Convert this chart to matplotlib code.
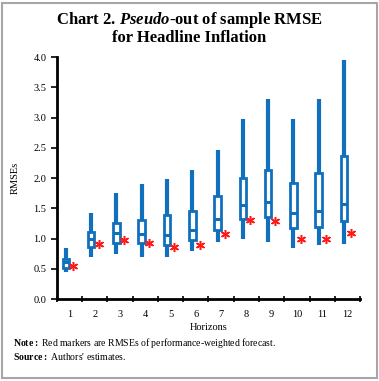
import numpy as np
import matplotlib
matplotlib.use("Agg")
import matplotlib.pyplot as plt
from matplotlib.patches import Rectangle

plt.rcParams['font.family'] = ['Liberation Serif', 'DejaVu Serif']
plt.rcParams['mathtext.fontset'] = 'custom'
plt.rcParams['mathtext.rm'] = 'Liberation Serif'
plt.rcParams['mathtext.it'] = 'Liberation Serif:italic:bold'
plt.rcParams['mathtext.bf'] = 'Liberation Serif:bold'

# box plot stats (RMSEs by forecast horizon)
horizons = list(range(1, 13))
whis_lo = [0.45, 0.69, 0.74, 0.69, 0.70, 0.80, 0.95, 1.00, 0.95, 0.84, 0.89, 0.91]
q1 = [0.52, 0.86, 0.93, 0.92, 0.90, 0.98, 1.14, 1.32, 1.35, 1.17, 1.20, 1.29]
med = [0.62, 0.99, 1.09, 1.07, 1.06, 1.14, 1.33, 1.55, 1.61, 1.42, 1.45, 1.57]
q3 = [0.66, 1.11, 1.26, 1.31, 1.39, 1.45, 1.71, 2.00, 2.14, 1.92, 2.09, 2.36]
whis_hi = [0.85, 1.42, 1.75, 1.90, 1.98, 2.13, 2.46, 2.97, 3.31, 2.97, 3.30, 3.95]
# performance-weighted forecast RMSE (red markers)
weighted = [0.54, 0.91, 0.97, 0.93, 0.86, 0.89, 1.07, 1.31, 1.29, 1.00, 0.99, 1.09]

yticks = [0.0, 0.5, 1.0, 1.5, 2.0, 2.5, 3.0, 3.5, 4.0]

blue = '#1170bd'
red = '#ff1a1a'

fig = plt.figure(figsize=(3.79, 3.81), dpi=100)
ax = fig.add_axes([0.150, 0.215, 0.800, 0.635])

stats = []
for i in range(len(horizons)):
    stats.append(dict(med=med[i], q1=q1[i], q3=q3[i],
                      whislo=whis_lo[i], whishi=whis_hi[i], fliers=[]))

pos = np.array(horizons) - 0.14
ax.bxp(stats, positions=pos, widths=0.26, patch_artist=True,
       showcaps=False, showfliers=False,
       boxprops=dict(facecolor='white', edgecolor=blue, linewidth=2),
       medianprops=dict(color=blue, linewidth=2.2),
       whiskerprops=dict(color=blue, linewidth=3, solid_capstyle='butt'))

ax.plot(np.array(horizons) + 0.15, weighted, linestyle='none',
        marker=(6, 2, 0), markersize=6.5, markeredgewidth=1.1,
        color=red, markeredgecolor=red)

ax.set_xlim(0.5, 12.5)
ax.set_ylim(0, 4.0)
ax.set_yticks(yticks)
ax.set_yticklabels([f'{v:.1f}' for v in yticks])
ax.set_xticks(horizons)
ax.set_xticklabels([str(h) for h in horizons])
ax.set_xticks(np.arange(0.5, 13, 1), minor=True)
ax.tick_params(axis='x', which='major', length=0, labelsize=7.5, pad=8)
ax.tick_params(axis='x', which='minor', length=4, width=1.2, direction='inout')
ax.tick_params(axis='y', length=4, width=1.2, direction='out', labelsize=7.5)

for s in ['top', 'right']:
    ax.spines[s].set_visible(False)
for s in ['left', 'bottom']:
    ax.spines[s].set_linewidth(2)
    ax.spines[s].set_color('black')

ax.set_ylabel('RMSEs', fontsize=7.5, labelpad=10)
ax.set_xlabel('Horizons', fontsize=7.5, labelpad=3)

fig.text(0.5, 0.947, 'Chart 2. $\\it{Pseudo}$-out of sample RMSE',
         ha='center', va='center', fontsize=12, fontweight='bold')
fig.text(0.5, 0.900, 'for Headline Inflation',
         ha='center', va='center', fontsize=12, fontweight='bold')

fig.text(0.034, 0.099, r'$\bf{Note:}$ Red markers are RMSEs of performance-weighted forecast.',
         ha='left', va='center', fontsize=7)
fig.text(0.034, 0.065, r"$\bf{Source:}$ Authors' estimates.",
         ha='left', va='center', fontsize=7)

fig.patches.append(Rectangle((0.006, 0.008), 0.988, 0.984, transform=fig.transFigure,
                             fill=False, edgecolor='#a6a6a6', linewidth=1.5))

fig.savefig('out.png', dpi=100)
